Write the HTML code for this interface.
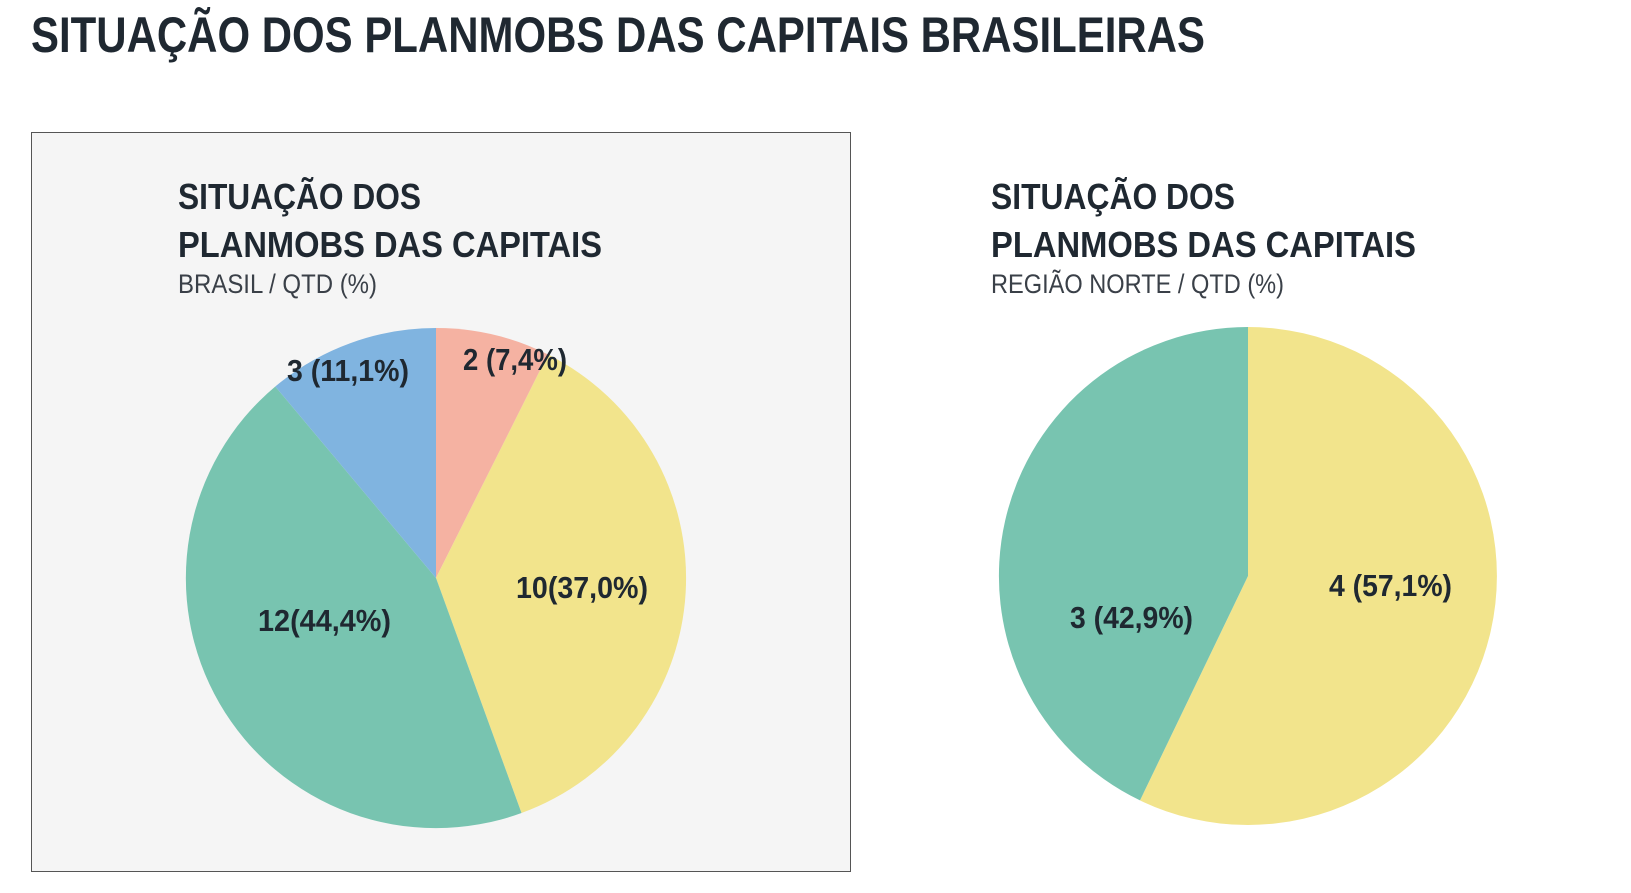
<!DOCTYPE html>
<html><head><meta charset="utf-8"><style>
html,body{margin:0;padding:0;background:#fff;}
svg{display:block;}
text{font-family:"Liberation Sans",sans-serif;fill:#1f2831;}
.b{font-weight:bold;}
</style></head><body>
<svg width="1631" height="893" viewBox="0 0 1631 893" xmlns="http://www.w3.org/2000/svg">
<text class="b" x="31" y="52" font-size="50" textLength="1174" lengthAdjust="spacingAndGlyphs">SITUAÇÃO DOS PLANMOBS DAS CAPITAIS BRASILEIRAS</text>
<rect x="31.5" y="132.5" width="819" height="739" fill="#f5f5f5" stroke="#555" stroke-width="1"/>
<text class="b" x="178" y="209" font-size="36" textLength="243" lengthAdjust="spacingAndGlyphs">SITUAÇÃO DOS</text>
<text class="b" x="178" y="257" font-size="36" textLength="424" lengthAdjust="spacingAndGlyphs">PLANMOBS DAS CAPITAIS</text>
<text x="178" y="293" font-size="27" style="fill:#3a4048" textLength="199" lengthAdjust="spacingAndGlyphs">BRASIL / QTD (%)</text>
<path d="M436,578 L436,328 A250,250 0 0 1 548,354.5 Z" fill="#f5b2a2"/>
<path d="M436,578 L548,354.5 A250,250 0 0 1 521.5,813 Z" fill="#f2e48c"/>
<path d="M436,578 L521.5,813 A250,250 0 0 1 275.3,386.5 Z" fill="#78c4b0"/>
<path d="M436,578 L275.3,386.5 A250,250 0 0 1 436,328 Z" fill="#80b4e0"/>
<text class="b" x="463" y="370" font-size="31" textLength="104" lengthAdjust="spacingAndGlyphs">2 (7,4%)</text>
<text class="b" x="287" y="381" font-size="31" textLength="122" lengthAdjust="spacingAndGlyphs">3 (11,1%)</text>
<text class="b" x="516" y="598" font-size="31" textLength="132" lengthAdjust="spacingAndGlyphs">10(37,0%)</text>
<text class="b" x="258" y="631" font-size="31" textLength="133" lengthAdjust="spacingAndGlyphs">12(44,4%)</text>
<text class="b" x="991" y="209" font-size="36" textLength="244" lengthAdjust="spacingAndGlyphs">SITUAÇÃO DOS</text>
<text class="b" x="991" y="257" font-size="36" textLength="425" lengthAdjust="spacingAndGlyphs">PLANMOBS DAS CAPITAIS</text>
<text x="991" y="293" font-size="27" style="fill:#3a4048" textLength="293" lengthAdjust="spacingAndGlyphs">REGIÃO NORTE / QTD (%)</text>
<path d="M1248,576 L1248,327 A249,249 0 1 1 1140,800.4 Z" fill="#f2e48c"/>
<path d="M1248,576 L1140,800.4 A249,249 0 0 1 1248,327 Z" fill="#78c4b0"/>
<text class="b" x="1329" y="596" font-size="31" textLength="123" lengthAdjust="spacingAndGlyphs">4 (57,1%)</text>
<text class="b" x="1070" y="628" font-size="31" textLength="123" lengthAdjust="spacingAndGlyphs">3 (42,9%)</text>
</svg>
</body></html>
